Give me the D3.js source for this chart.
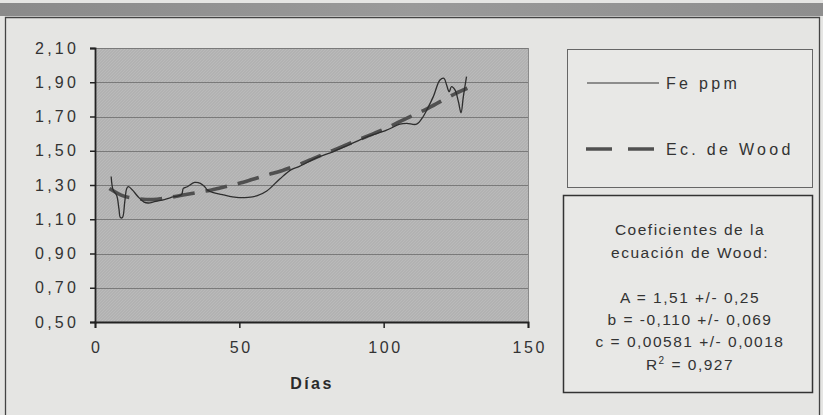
<!DOCTYPE html>
<html>
<head>
<meta charset="utf-8">
<script src="https://cdn.jsdelivr.net/npm/d3@7"></script>
<style>
  html, body { margin: 0; padding: 0; background: #e5e5e3; }
  svg { display: block; font-family: "Liberation Sans", Arial, sans-serif; }
</style>
</head>
<body>
<div id="chart"></div>
<script>
// Fe content over lactation days, with the fitted Wood curve
const feDays   = [5.6, 6.3, 7.5, 8.3, 8.8, 9.5, 10.3, 11, 11.6, 13, 15, 17, 18.5, 21, 24, 27, 30, 30.6, 32, 34.5, 36.5, 38, 39, 41, 44.5, 49, 53, 56, 59.5, 64, 68, 71, 75.6, 78, 82.6, 88, 94, 101, 105.6, 108, 111.4, 113.7, 115, 117.2, 119.5, 120.9, 121.8, 122.7, 123.5, 124.7, 125.9, 126.8, 127.6, 128.7];
const feValues = [1.35, 1.27, 1.24, 1.16, 1.11, 1.11, 1.20, 1.28, 1.29, 1.27, 1.23, 1.20, 1.195, 1.205, 1.215, 1.23, 1.245, 1.28, 1.29, 1.315, 1.31, 1.29, 1.27, 1.255, 1.242, 1.228, 1.228, 1.236, 1.265, 1.335, 1.39, 1.41, 1.45, 1.467, 1.495, 1.535, 1.58, 1.62, 1.655, 1.66, 1.655, 1.70, 1.74, 1.816, 1.913, 1.923, 1.884, 1.845, 1.874, 1.855, 1.786, 1.722, 1.816, 1.933];

const woodDays   = [5, 10, 15, 20, 25, 30, 35, 40, 45, 50, 55, 60, 65, 70, 75, 80, 85, 90, 95, 100, 105, 110, 115, 120, 125, 129];
const woodValues = [1.28, 1.235, 1.22, 1.215, 1.225, 1.24, 1.255, 1.27, 1.29, 1.31, 1.335, 1.36, 1.385, 1.415, 1.45, 1.485, 1.52, 1.555, 1.59, 1.625, 1.665, 1.705, 1.745, 1.79, 1.835, 1.865];

const yTicks = [0.5, 0.7, 0.9, 1.1, 1.3, 1.5, 1.7, 1.9, 2.1];
const xTicks = [0, 50, 100, 150];

const legendLabels = ["Fe ppm", "Ec. de Wood"];
const coefLines = ["Coeficientes de la", "ecuación de Wood:", "", "A = 1,51 +/- 0,25", "b = -0,110 +/- 0,069", "c = 0,00581 +/- 0,0018", "R2 = 0,927"];
const xTitle = "Días";

const W = 823, H = 415;
const plot = { left: 95, top: 48, right: 528, bottom: 322 };

const svg = d3.select("#chart").append("svg").attr("width", W).attr("height", H);

// page background and outer frame
svg.append("rect").attr("width", W).attr("height", H).attr("fill", "#e5e5e3");
const band = svg.append("defs").append("linearGradient").attr("id", "band")
  .attr("x1", 0).attr("x2", 1).attr("y1", 0).attr("y2", 0);
band.append("stop").attr("offset", "0%").attr("stop-color", "#8a8a8a");
band.append("stop").attr("offset", "50%").attr("stop-color", "#9a9a9a");
band.append("stop").attr("offset", "100%").attr("stop-color", "#8e8e8e");
svg.append("rect").attr("x", 0).attr("y", 3).attr("width", W).attr("height", 13).attr("fill", "url(#band)");
svg.append("path").attr("d", `M5.5,${H} V17.5 H819.5 V${H}`)
  .attr("fill", "none").attr("stroke", "#444").attr("stroke-width", 1.3);

// hatch texture for the plot area
const pat = svg.select("defs").append("pattern").attr("id", "hatch")
  .attr("patternUnits", "userSpaceOnUse").attr("width", 3).attr("height", 3);
pat.append("rect").attr("width", 3).attr("height", 3).attr("fill", "#b2b2b2");
pat.append("path").attr("d", "M0,3 L3,0").attr("stroke", "#bdbdbd").attr("stroke-width", 0.8);

const x = d3.scaleLinear().domain([0, 150]).range([plot.left, plot.right]);
const y = d3.scaleLinear().domain([0.5, 2.1]).range([plot.bottom, plot.top]);

svg.append("rect").attr("x", plot.left).attr("y", plot.top)
  .attr("width", plot.right - plot.left).attr("height", plot.bottom - plot.top)
  .attr("fill", "url(#hatch)");

// horizontal gridlines
svg.append("g").selectAll("line").data(yTicks.slice(1)).join("line")
  .attr("x1", plot.left).attr("x2", plot.right)
  .attr("y1", d => Math.round(y(d)) + 0.5).attr("y2", d => Math.round(y(d)) + 0.5)
  .attr("stroke", "#7a7a7a").attr("stroke-width", 1);

// right border of plot area
svg.append("line").attr("x1", plot.right + 0.5).attr("x2", plot.right + 0.5)
  .attr("y1", plot.top).attr("y2", plot.bottom).attr("stroke", "#8a8a8a");

const fmt = d => d3.format(".2f")(d).replace(".", ",");

// y axis
const yAxis = svg.append("g").attr("transform", `translate(${plot.left},0)`)
  .call(d3.axisLeft(y).tickValues(yTicks).tickSize(5).tickPadding(14).tickFormat(fmt));
yAxis.select(".domain").attr("stroke", "#222").attr("stroke-width", 1.8);
yAxis.selectAll(".tick line").attr("stroke", "#222").attr("stroke-width", 1.5);
yAxis.selectAll("text").attr("font-size", 16).attr("fill", "#333").attr("letter-spacing", 3.2)
  .attr("font-family", "Liberation Sans, Arial, sans-serif").attr("dx", 3);

// x axis
const xAxis = svg.append("g").attr("transform", `translate(0,${plot.bottom})`)
  .call(d3.axisBottom(x).tickValues(xTicks).tickSize(6).tickPadding(14).tickFormat(d3.format("d")));
xAxis.select(".domain").attr("stroke", "#222").attr("stroke-width", 1.8);
xAxis.selectAll(".tick line").attr("stroke", "#222").attr("stroke-width", 1.5);
xAxis.selectAll("text").attr("font-size", 16).attr("fill", "#333").attr("letter-spacing", 2.6)
  .attr("font-family", "Liberation Sans, Arial, sans-serif").attr("dx", 1.3);

svg.append("text").attr("x", 312).attr("y", 389).attr("text-anchor", "middle")
  .attr("font-size", 16).attr("font-weight", "bold").attr("letter-spacing", 2.4)
  .attr("fill", "#2a2a2a").text(xTitle);

// series
const line = d3.line().x(d => x(d[0])).y(d => y(d[1])).curve(d3.curveCatmullRom.alpha(0.5));
const woodPts = woodDays.map((d, i) => [d, woodValues[i]]);
const fePts = feDays.map((d, i) => [d, feValues[i]]);

svg.append("path").datum(woodPts).attr("d", line)
  .attr("fill", "none").attr("stroke", "#505050").attr("stroke-width", 3.6)
  .attr("stroke-dasharray", "22,11");
svg.append("path").datum(fePts).attr("d", line)
  .attr("fill", "none").attr("stroke", "#2e2e2e").attr("stroke-width", 1.3);

// legend box
const lg = svg.append("g");
lg.append("rect").attr("x", 567.5).attr("y", 49.5).attr("width", 245).attr("height", 138)
  .attr("fill", "#e8e8e6").attr("stroke", "#666").attr("stroke-width", 1);
lg.append("line").attr("x1", 587).attr("x2", 659).attr("y1", 83).attr("y2", 83)
  .attr("stroke", "#333").attr("stroke-width", 1.2);
lg.append("line").attr("x1", 586).attr("x2", 656).attr("y1", 149).attr("y2", 149)
  .attr("stroke", "#505050").attr("stroke-width", 3.6).attr("stroke-dasharray", "26,16");
lg.selectAll("text").data(legendLabels).join("text")
  .attr("x", 666).attr("y", (d, i) => i === 0 ? 89 : 155)
  .attr("font-size", 16).attr("letter-spacing", 3.3).attr("fill", "#333").text(d => d);

// coefficient box
const cb = svg.append("g");
cb.append("rect").attr("x", 563.5).attr("y", 195.5).attr("width", 249).attr("height", 197)
  .attr("fill", "#e8e8e6").attr("stroke", "#333").attr("stroke-width", 1.5);
const lineY = [235, 258, 280, 303, 325, 347, 370];
coefLines.forEach((t, i) => {
  if (!t) return;
  const tx = cb.append("text").attr("x", 690).attr("y", lineY[i]).attr("text-anchor", "middle")
    .attr("font-size", 15.5).attr("letter-spacing", 1.5).attr("fill", "#333");
  if (t.startsWith("R2")) {
    tx.append("tspan").text("R");
    tx.append("tspan").attr("dy", -6).attr("font-size", 10).text("2");
    tx.append("tspan").attr("dy", 6).text(" = 0,927");
  } else {
    tx.text(t);
  }
});
</script>
</body>
</html>
